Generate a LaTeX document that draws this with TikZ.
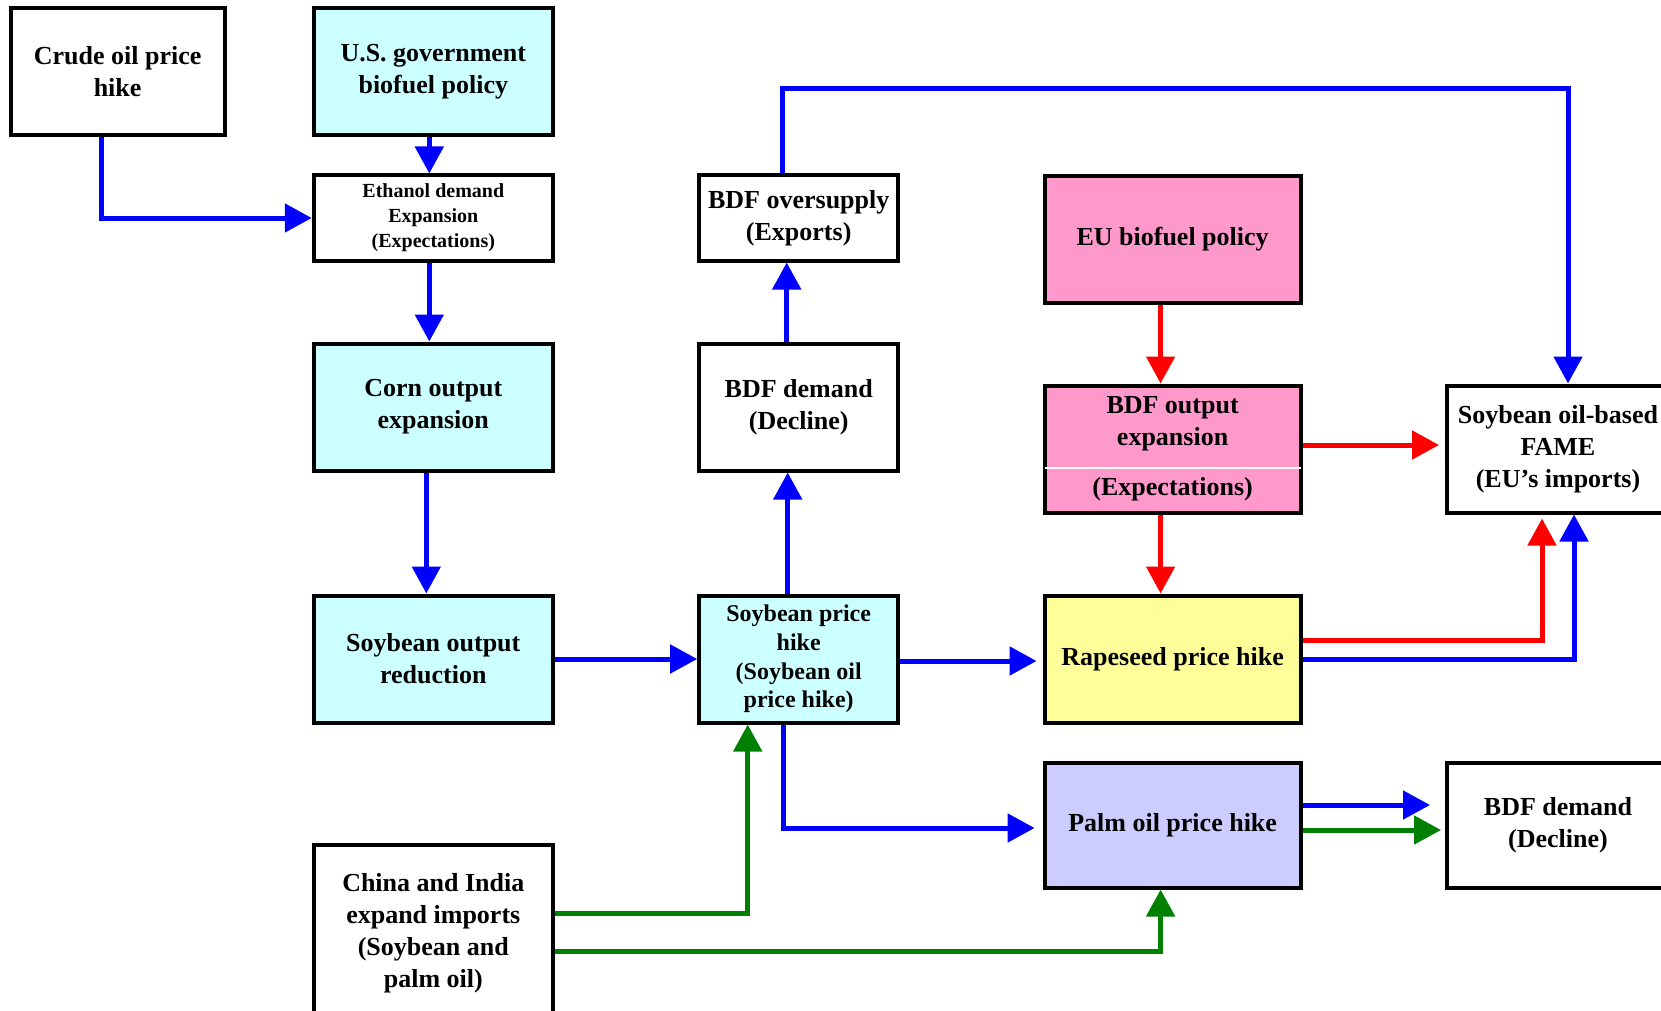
\documentclass[tikz,border=0pt]{standalone}
\usepackage{fontspec}
\setmainfont{Liberation Serif}
\usetikzlibrary{arrows.meta}
\definecolor{cyanfill}{HTML}{CCFFFF}
\definecolor{pinkfill}{HTML}{FF99CC}
\definecolor{yellowfill}{HTML}{FFFF99}
\definecolor{lavfill}{HTML}{CCCCFF}
\definecolor{arrblue}{HTML}{0000FF}
\definecolor{arrred}{HTML}{FF0000}
\definecolor{arrgreen}{HTML}{008000}
\tikzset{
  box/.style={draw=black, line width=4pt, fill=white, align=center, inner sep=2pt,
    font=\fontsize{26}{32}\selectfont\bfseries},
  flow/.style={line width=5pt, -{Triangle[length=27pt,width=28pt]}},
  blueflow/.style={flow, draw=arrblue, arrblue},
  redflow/.style={flow, draw=arrred, arrred},
  greenflow/.style={flow, draw=arrgreen, arrgreen}
}
\begin{document}
\begin{tikzpicture}[x=1pt, y=-1pt]
    \useasboundingbox (0,0) rectangle (1661,1011);
    % Left column
    \node[box, minimum width=214pt, minimum height=127pt] (crude) at (117.6,72) {Crude oil price\\hike};
    \node[box, fill=cyanfill, minimum width=239pt, minimum height=127pt] (usgov) at (433.3,72) {U.S. government\\biofuel policy};
    \node[box, minimum width=239pt, minimum height=85pt, font=\fontsize{20}{25}\selectfont\bfseries] (ethanol) at (433.3,218) {Ethanol demand\\Expansion\\(Expectations)};
    \node[box, fill=cyanfill, minimum width=239pt, minimum height=127pt] (corn) at (433.3,407) {Corn output\\expansion};
    \node[box, fill=cyanfill, minimum width=239pt, minimum height=127pt] (soyout) at (433.3,659) {Soybean output\\reduction};
    \node[box, minimum width=239pt, minimum height=176pt] (china) at (433.3,933) {China and India\\expand imports\\(Soybean and\\palm oil)};
    % Middle column
    \node[box, minimum width=199pt, minimum height=85pt] (bdfover) at (798.7,218) {BDF oversupply\\(Exports)};
    \node[box, minimum width=199pt, minimum height=127pt] (bdfdem) at (798.7,407) {BDF demand\\(Decline)};
    \node[box, fill=cyanfill, minimum width=199pt, minimum height=127pt, font=\fontsize{24}{28.6}\selectfont\bfseries] (soyprice) at (798.7,659) {Soybean price\\hike\\(Soybean oil\\price hike)};
    % EU column
    \node[box, fill=pinkfill, minimum width=256pt, minimum height=127pt] (eu) at (1172.6,239.5) {EU biofuel policy};
    \node[box, fill=pinkfill, minimum width=256pt, minimum height=127pt] (bdfout) at (1172.6,449) {BDF output\\expansion\\[18pt](Expectations)};
    \draw[white, line width=1.5pt] ([xshift=2pt,yshift=-19pt]bdfout.west) -- ([xshift=-2pt,yshift=-19pt]bdfout.east);
    \node[box, fill=yellowfill, minimum width=256pt, minimum height=127pt] (rape) at (1172.6,659) {Rapeseed price hike};
    \node[box, fill=lavfill, minimum width=256pt, minimum height=125pt] (palm) at (1172.6,825) {Palm oil price hike};
    % Right column
    \node[box, minimum width=222pt, minimum height=127pt] (fame) at (1558,449) {Soybean oil-based\\FAME\\(EU’s imports)};
    \node[box, minimum width=222pt, minimum height=125pt] (bdfdemb) at (1558,825) {BDF demand\\(Decline)};

    % Blue links
    \draw[blueflow] ([xshift=-16pt]crude.south) |- (ethanol.west);
    \draw[blueflow] ([xshift=-4pt]usgov.south) -- ([xshift=-4pt]ethanol.north);
    \draw[blueflow] ([xshift=-4pt]ethanol.south) -- ([xshift=-4pt]corn.north);
    \draw[blueflow] ([xshift=-7pt]corn.south) -- ([xshift=-7pt]soyout.north);
    \draw[blueflow] (soyout.east) -- (soyprice.west);
    \draw[blueflow] ([xshift=-11pt]soyprice.north) -- ([xshift=-11pt]bdfdem.south);
    \draw[blueflow] ([xshift=-12pt]bdfdem.north) -- ([xshift=-12pt]bdfover.south);
    \draw[blueflow] ([xshift=-16pt]bdfover.north) -- ++(0,-85) -| ([xshift=10pt]fame.north);
    \draw[blueflow] ([yshift=-2pt]soyprice.east) -- ([xshift=-6pt,yshift=-2pt]rape.west);
    \draw[blueflow] (rape.east) -| ([xshift=16pt]fame.south);
    \draw[blueflow] ([xshift=-15pt]soyprice.south) |- ([xshift=-8pt,yshift=-3pt]palm.west);
    \draw[blueflow] ([yshift=20pt]palm.east) -- ([xshift=-15pt,yshift=20pt]bdfdemb.west);
    % Red links
    \draw[redflow] ([xshift=-12pt]eu.south) -- ([xshift=-12pt]bdfout.north);
    \draw[redflow] ([yshift=4pt]bdfout.east) -- ([xshift=-6pt,yshift=4pt]fame.west);
    \draw[redflow] ([xshift=-12pt]bdfout.south) -- ([xshift=-12pt]rape.north);
    \draw[redflow] ([yshift=19pt]rape.east) -| ([xshift=-16pt,yshift=-4pt]fame.south);
    % Green links
    \draw[greenflow] ([yshift=-5pt]palm.east) -- ([xshift=-4pt,yshift=-5pt]bdfdemb.west);
    \draw[greenflow] ([yshift=20pt]china.east) -| ([xshift=-51pt]soyprice.south);
    \draw[greenflow] ([yshift=-18pt]china.east) -| ([xshift=-12pt]palm.south);
\end{tikzpicture}
\end{document}
